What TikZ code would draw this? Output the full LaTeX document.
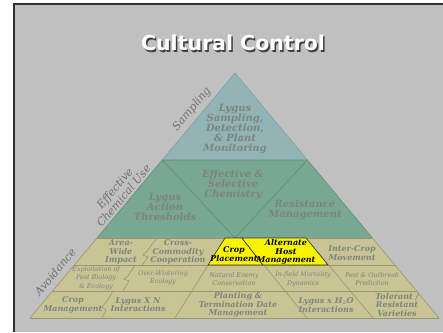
\documentclass[tikz,border=0pt]{standalone}
\usepackage{fontspec}
\newfontfamily\pyrfont{DejaVu Serif}
\newfontfamily\headfont{DejaVu Sans}
\usetikzlibrary{calc}

\definecolor{slidegray}{HTML}{C0C0C0}
\definecolor{framegray}{HTML}{303030}
\definecolor{tealfill}{HTML}{93B4B4}
\definecolor{tealline}{HTML}{7FA0A0}
\definecolor{greenfill}{HTML}{78A892}
\definecolor{greenline}{HTML}{5E8E78}
\definecolor{tanfill}{HTML}{C8C493}
\definecolor{tanline}{HTML}{9A9670}
\definecolor{hostyellow}{HTML}{F8F400}
\definecolor{txtgray}{HTML}{7E8480}
\definecolor{sidegray}{HTML}{727272}

\begin{document}
\begin{tikzpicture}[x=1pt,y=-1pt,
  bandtext/.style={font=\pyrfont\bfseries\itshape\fontsize{10}{10.2}\selectfont,text=txtgray,align=center,inner sep=0pt},
  celltext/.style={font=\pyrfont\bfseries\itshape\fontsize{8}{8.2}\selectfont,text=txtgray,align=center,inner sep=0pt},
  smalltext/.style={font=\pyrfont\itshape\fontsize{6.4}{8.6}\selectfont,text=txtgray,align=center,inner sep=0pt},
  hosttext/.style={font=\pyrfont\bfseries\itshape\fontsize{8}{8.4}\selectfont,text=black,align=center,inner sep=0pt},
  sidetext/.style={font=\pyrfont\itshape\fontsize{11}{11.5}\selectfont,text=sidegray,align=center,inner sep=0pt,rotate=50},
  divline/.style={tanline,line width=0.6pt},
  hostbox/.style={fill=hostyellow,draw=black!80,line width=0.6pt,line join=round}]
\useasboundingbox (0,0) rectangle (443,332);
\fill[white] (0,0) rectangle (443,332);
\fill[slidegray] (14,4) rectangle (443,332);
\draw[framegray,line width=1.4pt] (14,332)--(14,4)--(443,4);

% title with its shadow
\node[font=\headfont\bfseries\fontsize{20.5}{22}\selectfont,text=black!75] at (234.5,44.5) {Cultural Control};
\node (title) [font=\headfont\bfseries\fontsize{20.5}{22}\selectfont,text=white] at (233,43) {Cultural Control};

\coordinate (apex) at (235,73);
\coordinate (bl) at (30,318);
\coordinate (br) at (439,318);
\coordinate (t1) at ($(apex)!0.355!(bl)$);
\coordinate (t2) at ($(apex)!0.355!(br)$);
\coordinate (g1) at ($(apex)!0.673!(bl)$);
\coordinate (g2) at ($(apex)!0.673!(br)$);
\coordinate (r1l) at ($(apex)!0.784!(bl)$);
\coordinate (r1r) at ($(apex)!0.784!(br)$);
\coordinate (r2l) at ($(apex)!0.890!(bl)$);
\coordinate (r2r) at ($(apex)!0.890!(br)$);
\coordinate (gmid) at (235,238);

\fill[tanfill] (g1)--(g2)--(br)--(bl)--cycle;
\fill[greenfill] (t1)--(t2)--(g2)--(g1)--cycle;
\fill[tealfill] (apex)--(t2)--(t1)--cycle;
\draw[tealline,line width=0.6pt] (t1)--(apex)--(t2);
\draw[greenline,line width=0.6pt] (t1)--(t2)--(g2) (t1)--(g1);
\draw[greenline,line width=0.6pt] (t1)--(gmid)--(t2);

% rows of the base
\draw[divline] (g1)--(g2) (r1l)--(r1r) (r2l)--(r2r) (bl)--(br);
\draw[divline] (g1)--(bl) (g2)--(br);
\coordinate (cTop) at (225,238);
\coordinate (cBot) at (175,318);
\coordinate (aTop) at (242,238);
\coordinate (aBot) at (307,318);
\coordinate (bTop) at (306,238);
\coordinate (bBot) at (373,318);
\draw[divline] (cTop)--(cBot) (aTop)--(aBot) (bTop)--(bBot);
\draw[divline] (157,238)--(147,251)--(143,255)--(148,257)--(142,265);
\draw[divline] (135,265)--(128,276)--(124,279)--(129,281)--(123,291);
\draw[divline] (113,291)--(107,301)--(102,307)--(106,310)--(102,318);

\draw[hostbox] (cTop)--(aTop)--(263,265)--(208,265)--cycle;
\draw[hostbox] (aTop)--(bTop)--(328,265)--(263,265)--cycle;

\node (sampling) [sidetext] at (192,109) {Sampling};
\node (chemuse) [sidetext] at (119,192) {Effective\\Chemical Use};
\node (avoid) [sidetext] at (55,272) {Avoidance};

\node (monitor) [bandtext] at (235,129) {Lygus\\Sampling,\\Detection,\\\& Plant\\Monitoring};
\node (selective) [bandtext] at (233,185) {Effective \&\\Selective\\Chemistry};
\node (thresh) [bandtext] at (165,207) {Lygus\\Action\\Thresholds};
\node (resist) [bandtext] at (305,210) {Resistance\\Management};

\node (areawide) [celltext] at (121,252) {Area-\\Wide\\Impact};
\node (crosscomm) [celltext] at (178,252) {Cross-\\Commodity\\Cooperation};
\node (placement) [hosttext] at (234,254) {Crop\\Placement};
\node (althost) [hosttext] at (286,252) {Alternate\\Host\\Management};
\node (intercrop) [celltext] at (352,253) {Inter-Crop\\Movement};

\node (exploit) [smalltext] at (96,278) {Exploitation of\\Pest Biology\\\& Ecology};
\node (overwinter) [smalltext] at (163,278) {Over-Wintering\\Ecology};
\node (natenemy) [smalltext] at (234,279) {Natural Enemy\\Conservation};
\node (infield) [smalltext] at (303,279) {In-field Mortality\\Dynamics};
\node (outbreak) [smalltext] at (372,279) {Pest \& Outbreak\\Prediction};

\node (cropmgmt) [celltext] at (73,305) {Crop\\Management};
\node (lygusn) [celltext] at (138,305) {Lygus X N\\Interactions};
\node (planting) [celltext] at (238,305) {Planting \&\\Termination Date\\Management};
\node (lygusw) [celltext] at (326,305) {Lygus x H$_2$O\\Interactions};
\node (tolerant) [celltext] at (397,305) {Tolerant /\\Resistant\\Varieties};

\end{tikzpicture}
\end{document}
